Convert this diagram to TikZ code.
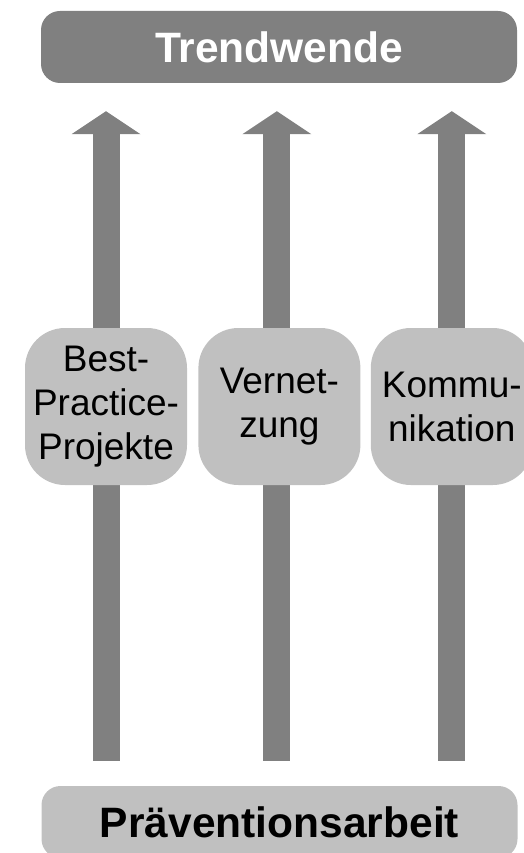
\documentclass[tikz,border=0pt]{standalone}
\usepackage{fontspec}
\setmainfont{Liberation Sans}
\usepackage{xcolor}
\usepackage{tikz}
\usetikzlibrary{positioning,arrows.meta,backgrounds}
\definecolor{dunkelgrau}{HTML}{808080}
\definecolor{hellgrau}{HTML}{C0C0C0}

\begin{document}
\begin{tikzpicture}[
    x=1pt, y=-1pt,
    kasten/.style={rectangle, rounded corners=19pt, minimum width=476pt, minimum height=72pt, inner sep=0pt, font=\fontsize{42.5}{50}\selectfont\bfseries},
    saeule/.style={rectangle, rounded corners=40pt, fill=hellgrau, minimum width=162pt, minimum height=157pt, inner sep=0pt, align=center, font=\fontsize{37}{44}\selectfont},
    pfeil/.style={draw=dunkelgrau, line width=27pt, -{Triangle[length=23pt, width=69pt, line width=0pt]}}
]
    \useasboundingbox (0,0) rectangle (523,853);

    % Ziel oben
    \node[kasten, fill=dunkelgrau, text=white] (trend) at (279,47) {Trendwende};

    % Basis unten
    \node[kasten, fill=hellgrau] (praev) at (279.5,822) {Präventionsarbeit};

    % Massnahmen
    \node[saeule] (best) at (106,406.5) {Best-\\Practice-\\Projekte};
    \node[saeule, right=11pt of best] (vernetzung) {Vernet-\\zung};
    \node[saeule, right=10pt of vernetzung] (kommunikation) {Kommu-\\nikation};

    % Pfeile hinter den Kaesten
    \begin{scope}[on background layer]
        \draw[pfeil, shorten <=25pt, shorten >=28pt] (best |- praev.north) -- (best |- trend.south);
        \draw[pfeil, shorten <=25pt, shorten >=28pt] ([xshift=-2.5pt]vernetzung |- praev.north) -- ([xshift=-2.5pt]vernetzung |- trend.south);
        \draw[pfeil, shorten <=25pt, shorten >=28pt] (kommunikation |- praev.north) -- (kommunikation |- trend.south);
    \end{scope}
\end{tikzpicture}
\end{document}
